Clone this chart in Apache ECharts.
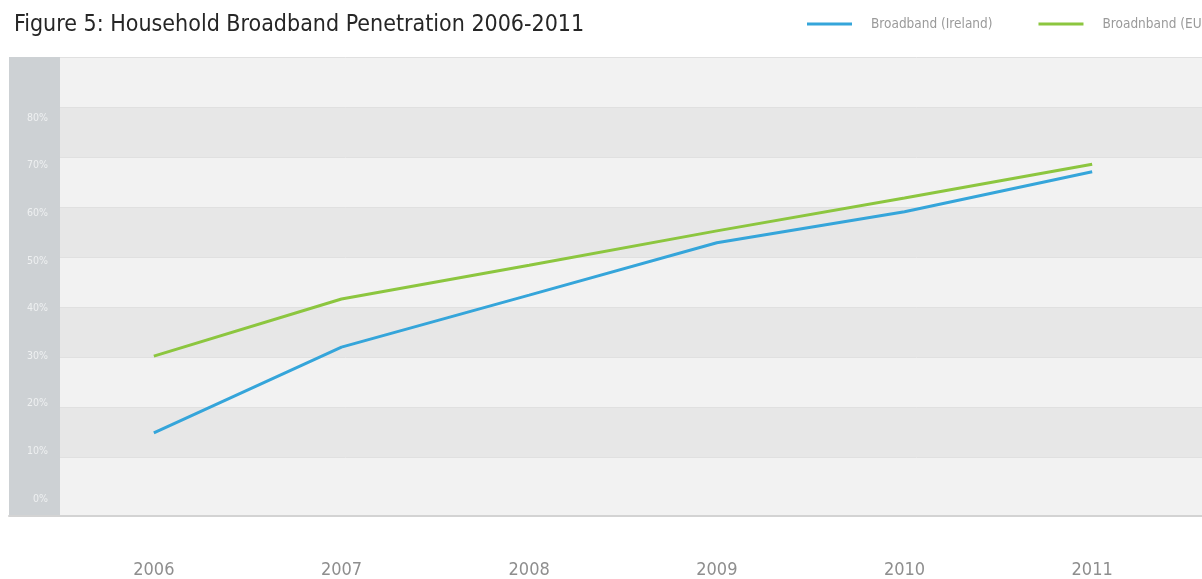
<!DOCTYPE html>
<html>
<head>
<meta charset="utf-8">
<script src="https://cdn.jsdelivr.net/npm/echarts@6/dist/echarts.min.js"></script>
<style>
html,body{margin:0;padding:0;background:#fff;}
#chart{width:1202px;height:579px;}
</style>
</head>
<body>
<div id="chart"></div>
<script>
var years = ['2006', '2007', '2008', '2009', '2010', '2011'];
var broadbandIreland = [13.9, 31.9, 42.8, 53.8, 60.3, 68.7];
var broadbandEU = [30.0, 42.0, 49.1, 56.3, 63.2, 70.3];
var seriesNames = ['Broadband (Ireland)', 'Broadnband (EU)'];
var titleText = 'Figure 5: Household Broadband Penetration 2006-2011';

var FONT = "'DejaVu Sans Condensed', 'Liberation Sans Narrow', 'Roboto', sans-serif";
var L = '#f2f2f2', D = '#e7e7e7', SL = '#e0e0e0', T = 'rgba(0,0,0,0)';
var chart = echarts.init(document.getElementById('chart'), null, {renderer: 'canvas'});
chart.setOption({
  animation: false,
  backgroundColor: '#ffffff',
  title: {
    text: titleText,
    left: 9, top: 9,
    textStyle: {fontFamily: FONT, fontSize: 23, fontWeight: 'normal', color: '#262626'}
  },
  legend: {
    left: 802, top: 12, width: 1000, orient: 'horizontal',
    itemWidth: 45, itemHeight: 3, itemGap: 46,
    icon: 'rect',
    textStyle: {fontFamily: FONT, fontSize: 13.5, color: '#9a9a9a', padding: [0, 0, 0, 14]},
    data: seriesNames
  },
  grid: [
    {left: 9, width: 51, top: 57, height: 459, show: true, backgroundColor: '#cdd1d4', borderWidth: 0},
    {left: 60, right: 0, top: 57, height: 459, show: false},
    {left: 60, right: 16, top: 118, bottom: 80, show: false}
  ],
  xAxis: [
    {gridIndex: 0, type: 'value', min: 0, max: 1, axisLine: {show: true, onZero: false, lineStyle: {color: '#d3d3d3', width: 2}}, axisTick: {show: false}, axisLabel: {show: false}, splitLine: {show: false}},
    {gridIndex: 1, type: 'value', min: 0, max: 1, axisLine: {show: true, onZero: false, lineStyle: {color: '#d3d3d3', width: 2}}, axisTick: {show: false}, axisLabel: {show: false}, splitLine: {show: false}},
    {gridIndex: 2, type: 'category', data: years, boundaryGap: true,
     axisLine: {show: false}, axisTick: {show: false}, splitLine: {show: false},
     axisLabel: {margin: 62, fontFamily: FONT, fontSize: 18, color: '#8e8e8e'}}
  ],
  yAxis: [
    {gridIndex: 0, type: 'value', min: 0, max: 1, show: false},
    {gridIndex: 1, type: 'value', inverse: true, min: 0, max: 459, interval: 50,
     axisLine: {show: false}, axisTick: {show: false}, axisLabel: {show: false},
     splitLine: {show: true, lineStyle: {color: [SL, SL, SL, SL, SL, SL, SL, SL, SL, T, T], width: 1}},
     splitArea: {show: true, areaStyle: {color: [L, D, L, D, L, D, L, D, L, L]}}},
    {gridIndex: 2, type: 'value', min: 0, max: 80, interval: 10,
     axisLine: {show: false}, axisTick: {show: false}, splitLine: {show: false},
     axisLabel: {margin: 12, fontFamily: FONT, fontSize: 10.5, color: '#eef0f1', formatter: '{value}%'}}
  ],
  series: [
    {name: seriesNames[0], type: 'line', xAxisIndex: 2, yAxisIndex: 2, data: broadbandIreland,
     symbol: 'none', lineStyle: {color: '#35a5da', width: 3}, itemStyle: {color: '#35a5da'}},
    {name: seriesNames[1], type: 'line', xAxisIndex: 2, yAxisIndex: 2, data: broadbandEU,
     symbol: 'none', lineStyle: {color: '#8cc63f', width: 3}, itemStyle: {color: '#8cc63f'}}
  ]
});
</script>
</body>
</html>
